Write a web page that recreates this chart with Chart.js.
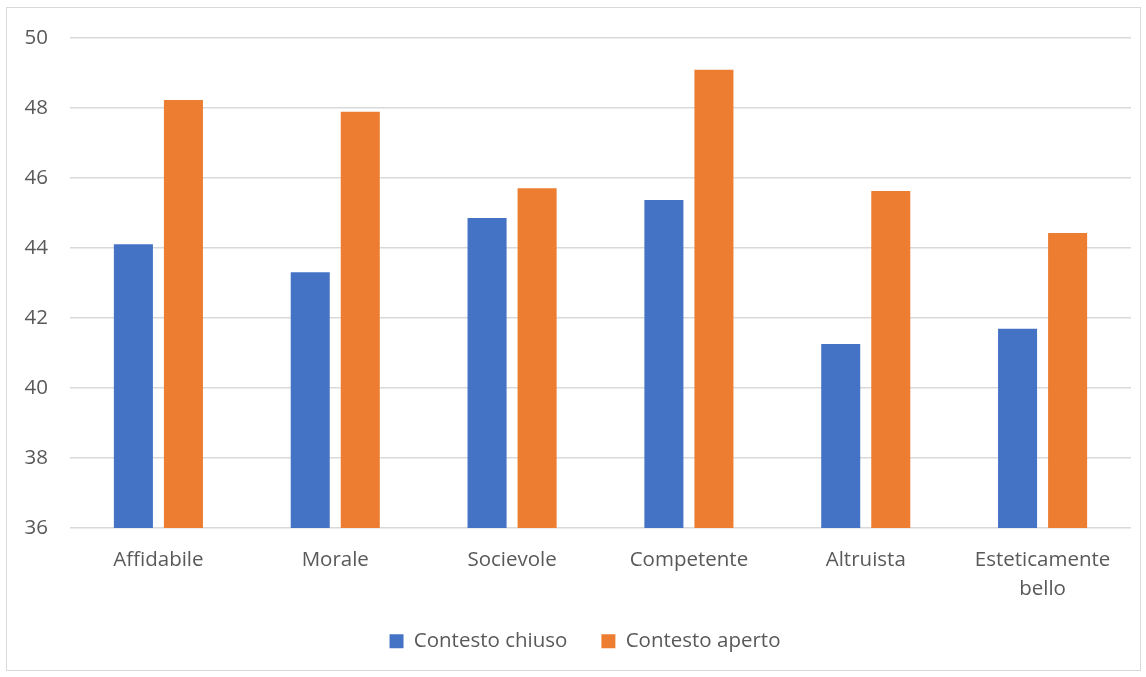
<!DOCTYPE html>
<html>
<head>
<meta charset="utf-8">
<script src="https://cdn.jsdelivr.net/npm/chart.js@4"></script>
<style>
  body { margin: 0; background: #fff; }
  #box {
    position: absolute; left: 6px; top: 7px;
    width: 1133px; height: 662px;
    border: 1px solid #d9d9d9;
  }
</style>
</head>
<body>
<div id="box"><canvas id="chart"></canvas></div>
<script>
// dati
const categories = ['Affidabile', 'Morale', 'Socievole', 'Competente', 'Altruista', ['Esteticamente', 'bello']];
const chiuso = [44.11, 43.31, 44.86, 45.37, 41.26, 41.69];
const aperto = [48.23, 47.89, 45.71, 49.09, 45.63, 44.43];
const seriesNames = ['Contesto chiuso', 'Contesto aperto'];
const yTicks = { min: 36, max: 50, step: 2 };

const txt = '#595959';
const font = { family: 'Open Sans, Liberation Sans, sans-serif', size: 20.5, lineHeight: 1.4 };

// sposta un po' la legenda verso destra, come nell'originale
const legendShift = {
  id: 'legendShift',
  afterLayout(chart) {
    chart.legend.left += 16;
    chart.legend.right += 16;
  }
};

const ctx = document.getElementById('chart').getContext('2d');
ctx.canvas.width = 1133;
ctx.canvas.height = 662;

const chart = new Chart(ctx, {
  type: 'bar',
  data: {
    labels: categories,
    datasets: [
      { label: seriesNames[0], data: chiuso, backgroundColor: '#4472c4' },
      { label: seriesNames[1], data: aperto, backgroundColor: '#ed7d31' }
    ]
  },
  options: {
    responsive: false,
    animation: false,
    categoryPercentage: 0.566,
    barPercentage: 0.78,
    layout: { padding: { left: 0, right: 9, top: 30, bottom: 0 } },
    plugins: {
      tooltip: { enabled: false },
      legend: {
        position: 'bottom',
        labels: {
          color: txt, font: font,
          boxWidth: 14, boxHeight: 14, padding: 34
        }
      }
    },
    scales: {
      x: {
        afterFit: (axis) => { axis.height = 69; },
        grid: { display: false },
        border: { display: false },
        ticks: { color: txt, font: font, maxRotation: 0, padding: 10 }
      },
      y: {
        min: yTicks.min, max: yTicks.max,
        afterFit: (axis) => { axis.width = 63; axis.paddingTop = 0; axis.paddingBottom = 0; },
        grid: { color: '#d9d9d9', lineWidth: 1.5, drawTicks: false },
        border: { display: false },
        ticks: { stepSize: yTicks.step, color: txt, font: font, padding: 22 }
      }
    }
  },
  plugins: [legendShift]
});

// altezza fissa della legenda per tenerla dentro il riquadro
const legendFit = chart.legend.fit.bind(chart.legend);
chart.legend.fit = function () { legendFit(); this.height = 73; };
chart.update();
</script>
</body>
</html>
